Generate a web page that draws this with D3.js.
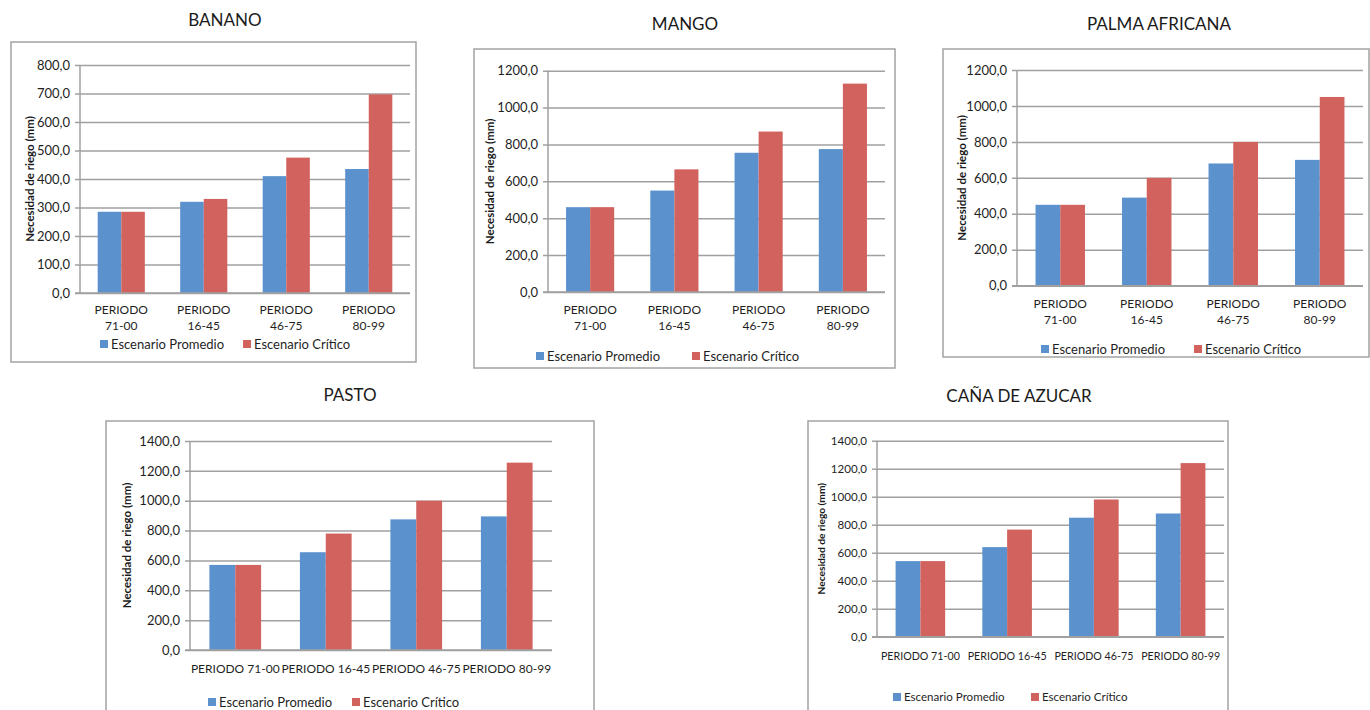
<!DOCTYPE html>
<html>
<head>
<meta charset="utf-8">
<script src="https://cdn.jsdelivr.net/npm/d3@7/dist/d3.min.js"></script>
<style>
  html, body { margin: 0; padding: 0; background: #fff; }
  svg { display: block; font-family: Lato, "Open Sans", sans-serif; }
</style>
</head>
<body>
<svg id="chart" width="1370" height="710"></svg>
<script>
// Irrigation requirement (mm) per crop, period and scenario
const periodos = ["PERIODO 71-00", "PERIODO 16-45", "PERIODO 46-75", "PERIODO 80-99"];
const escenarios = ["Escenario Promedio", "Escenario Crítico"];
const colores = ["#5b92ce", "#d1625e"];

const promedioBanano = [285, 320, 410, 435];
const criticoBanano  = [285, 330, 475, 697];
const promedioMango  = [460, 550, 755, 775];
const criticoMango   = [460, 665, 870, 1130];
const promedioPalma  = [450, 490, 680, 700];
const criticoPalma   = [450, 600, 800, 1050];
const promedioPasto  = [570, 655, 875, 895];
const criticoPasto   = [570, 780, 1000, 1255];
const promedioCana   = [540, 640, 850, 880];
const criticoCana    = [540, 765, 980, 1240];

const yMaximos = [800, 1200, 1200, 1400, 1400];
const yPasos   = [100, 200, 200, 200, 200];

// Panel layout: frame box, title centre, plot area, label and legend placement
const paneles = [
  { titulo: "BANANO", prom: promedioBanano, crit: criticoBanano,
    frame: [11, 42, 405, 320], tx: 225, ty: 20, fs: 1,
    plot: { l: 80, r: 410, t: 65, b: 293 }, ax: 30,
    dosLineas: true, ly: 310, legY: 344, legX: [100, 243] },
  { titulo: "MANGO", prom: promedioMango, crit: criticoMango,
    frame: [474, 49, 421, 319], tx: 685, ty: 24, fs: 1,
    plot: { l: 548, r: 885, t: 70.7, b: 292 }, ax: 490,
    dosLineas: true, ly: 310, legY: 356, legX: [536, 692] },
  { titulo: "PALMA AFRICANA", prom: promedioPalma, crit: criticoPalma,
    frame: [943, 49, 426, 308], tx: 1159, ty: 24, fs: 1,
    plot: { l: 1017, r: 1363, t: 70, b: 285.7 }, ax: 962,
    dosLineas: true, ly: 304, legY: 349, legX: [1041, 1194] },
  { titulo: "PASTO", prom: promedioPasto, crit: criticoPasto,
    frame: [106, 421, 488, 310], tx: 350, ty: 395, fs: 1,
    plot: { l: 190, r: 552, t: 441, b: 650 }, ax: 127,
    dosLineas: false, ly: 669, legY: 702, legX: [208, 352] },
  { titulo: "CAÑA DE AZUCAR", prom: promedioCana, crit: criticoCana,
    frame: [808, 421, 420, 310], tx: 1019, ty: 396, fs: 0.89,
    plot: { l: 877, r: 1224, t: 440.7, b: 636.7 }, ax: 821,
    dosLineas: false, ly: 656, legY: 697, legX: [893, 1031] }
];

const svg = d3.select("#chart");
const es = d3.formatLocale({ decimal: ",", thousands: "", grouping: [3], currency: ["", ""] });
const fmt = es.format(".1f");

paneles.forEach((p, i) => {
  const g = svg.append("g");
  const [fx, fy, fw, fh] = p.frame;

  // chart frame
  g.append("rect")
    .attr("x", fx).attr("y", fy).attr("width", fw).attr("height", fh)
    .attr("fill", "#fff").attr("stroke", "#a3a3a3").attr("stroke-width", 1.5);

  // title
  g.append("text")
    .attr("x", p.tx).attr("y", p.ty).attr("dy", "0.35em")
    .attr("text-anchor", "middle")
    .attr("font-size", 17).attr("fill", "#1a1a1a")
    .text(p.titulo);

  const y = d3.scaleLinear().domain([0, yMaximos[i]]).range([p.plot.b, p.plot.t]);
  const x0 = d3.scaleBand().domain(periodos).range([p.plot.l, p.plot.r])
    .paddingInner(1.5 / 3.5).paddingOuter(0.75 / 3.5);
  const x1 = d3.scaleBand().domain(escenarios).range([0, x0.bandwidth()]).padding(0);
  const color = d3.scaleOrdinal().domain(escenarios).range(colores);

  // horizontal gridlines with tick labels
  const ticks = d3.range(0, yMaximos[i] + 1, yPasos[i]);
  const yAxis = d3.axisLeft(y).tickValues(ticks).tickFormat(fmt)
    .tickSize(-(p.plot.r - p.plot.l)).tickPadding(6);
  const ax = g.append("g").attr("transform", `translate(${p.plot.l},0)`).call(yAxis);
  ax.select(".domain").remove();
  ax.selectAll(".tick line").attr("stroke", "#a0a0a0").attr("stroke-width", 1.5)
    .attr("x1", -5);
  ax.selectAll(".tick text").attr("font-size", 13 * p.fs).attr("fill", "#1f1f1f")
    .attr("font-family", "Lato, sans-serif").attr("x", -10);

  // vertical axis line
  g.append("line")
    .attr("x1", p.plot.l).attr("x2", p.plot.l)
    .attr("y1", p.plot.t).attr("y2", p.plot.b)
    .attr("stroke", "#a0a0a0").attr("stroke-width", 1.5);

  // bars
  const filas = periodos.map((per, k) => ({ per, vals: [p.prom[k], p.crit[k]] }));
  const grupos = g.selectAll(".grupo").data(filas).join("g")
    .attr("transform", d => `translate(${x0(d.per)},0)`);
  grupos.selectAll("rect")
    .data(d => escenarios.map((e, j) => ({ e, v: d.vals[j] })))
    .join("rect")
    .attr("x", d => x1(d.e))
    .attr("y", d => y(d.v))
    .attr("width", x1.bandwidth())
    .attr("height", d => y(0) - y(d.v))
    .attr("fill", d => color(d.e));

  // baseline drawn over bars
  g.append("line")
    .attr("x1", p.plot.l - 5).attr("x2", p.plot.r)
    .attr("y1", y(0)).attr("y2", y(0))
    .attr("stroke", "#a0a0a0").attr("stroke-width", 1.5);

  // category labels
  const cat = g.append("g");
  periodos.forEach(per => {
    const cx = x0(per) + x0.bandwidth() / 2;
    const t = cat.append("text")
      .attr("x", cx).attr("y", p.ly).attr("dy", "0.35em")
      .attr("text-anchor", "middle").attr("font-size", 12 * p.fs).attr("fill", "#1f1f1f");
    if (p.dosLineas) {
      const partes = per.split(" ");
      t.append("tspan").attr("x", cx).text(partes[0]);
      t.append("tspan").attr("x", cx).attr("dy", 16).text(partes[1]);
    } else {
      t.text(per);
    }
  });

  // y-axis title
  const cy = (p.plot.t + p.plot.b) / 2;
  g.append("text")
    .attr("transform", `translate(${p.ax},${cy}) rotate(-90)`)
    .attr("text-anchor", "middle").attr("dy", "0.35em")
    .attr("font-size", 11.5 * p.fs).attr("font-weight", "bold").attr("fill", "#1a1a1a")
    .text("Necesidad de riego (mm)");

  // legend
  escenarios.forEach((e, j) => {
    const lx = p.legX[j];
    g.append("rect")
      .attr("x", lx).attr("y", p.legY - 4).attr("width", 8).attr("height", 8)
      .attr("fill", colores[j]);
    g.append("text")
      .attr("x", lx + 11).attr("y", p.legY).attr("dy", "0.35em")
      .attr("font-size", 13 * p.fs).attr("fill", "#1f1f1f")
      .text(e);
  });
});
</script>
</body>
</html>
